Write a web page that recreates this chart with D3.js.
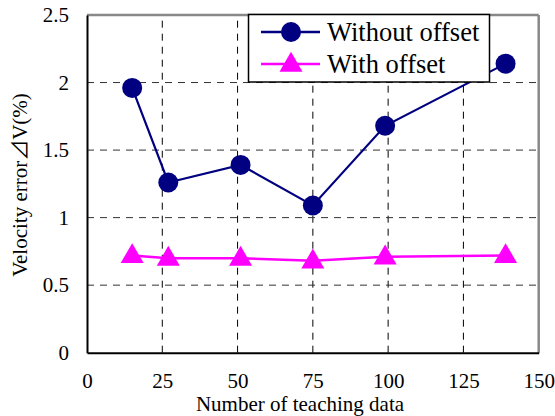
<!DOCTYPE html>
<html><head><meta charset="utf-8">
<script src="https://cdn.jsdelivr.net/npm/d3@7"></script>
<style>body{margin:0;background:#fff}svg{display:block}svg text{font-family:"Liberation Serif",serif}</style>
</head><body>
<script>
const xValues = [15, 27, 51, 75, 99, 139];
const withoutOffset = [1.96, 1.26, 1.39, 1.09, 1.68, 2.14];
const withOffset = [0.72, 0.70, 0.70, 0.68, 0.71, 0.72];
const xTicks = [0, 25, 50, 75, 100, 125, 150];
const yTicks = [0, 0.5, 1, 1.5, 2, 2.5];
const seriesNames = ["Without offset", "With offset"];

const W = 555, H = 416;
const m = {left: 87, right: 555 - 538.7, top: 15, bottom: 416 - 352.7};
const font = "Liberation Serif";

const svg = d3.select("body").append("svg").attr("width", W).attr("height", H);
const x = d3.scaleLinear().domain([0, 150]).range([m.left, W - m.right]);
const y = d3.scaleLinear().domain([0, 2.5]).range([H - m.bottom, m.top]);

// grid
svg.append("g").selectAll("line").data(xTicks.filter(d => d > 0 && d < 150)).join("line")
  .attr("x1", d => x(d)).attr("x2", d => x(d)).attr("y1", y(0)).attr("y2", y(2.5))
  .attr("stroke", "#000").attr("stroke-width", 1).attr("stroke-dasharray", "7,6");
svg.append("g").selectAll("line").data(yTicks.filter(d => d > 0 && d < 2.5)).join("line")
  .attr("x1", x(0)).attr("x2", x(150)).attr("y1", d => y(d)).attr("y2", d => y(d))
  .attr("stroke", "#333").attr("stroke-width", 1).attr("stroke-dasharray", "7,6");

// frame
svg.append("line").attr("x1", x(0)).attr("x2", x(150)).attr("y1", y(2.5)).attr("y2", y(2.5))
  .attr("stroke", "#888").attr("stroke-width", 2.5);
svg.append("line").attr("x1", x(150)).attr("x2", x(150)).attr("y1", y(2.5)).attr("y2", y(0))
  .attr("stroke", "#888").attr("stroke-width", 2.5);

// axes
const xAxis = svg.append("g").attr("transform", `translate(0,${y(0)})`)
  .call(d3.axisBottom(x).tickValues(xTicks).tickSize(0).tickPadding(20).tickFormat(d3.format("d")));
const yAxis = svg.append("g").attr("transform", `translate(${x(0)},0)`)
  .call(d3.axisLeft(y).tickValues(yTicks).tickSize(0).tickPadding(18).tickFormat(d => String(d)));
[xAxis, yAxis].forEach(a => {
  a.attr("font-family", null).attr("font-size", null);
  a.select(".domain").attr("stroke", "#000").attr("stroke-width", 2);
  a.selectAll("text").style("font-family", font).style("font-size", "21px").attr("fill", "#000");
});

// titles
svg.append("text").attr("x", 300).attr("y", 410.5)
  .attr("text-anchor", "middle").style("font-family", font).style("font-size", "21px")
  .text("Number of teaching data");
const yt = svg.append("text").attr("transform", `translate(27,185) rotate(-90)`)
  .attr("text-anchor", "middle").style("font-family", font).style("font-size", "21px");
yt.append("tspan").text("Velocity error");
yt.append("tspan").style("font-family", "Noto Sans CJK JP").text("⊿");
yt.append("tspan").text("V(%)");

// series
const ptsA = xValues.map((d, i) => [d, withoutOffset[i]]);
const ptsB = xValues.map((d, i) => [d, withOffset[i]]);
const line = d3.line().x(d => x(d[0])).y(d => y(d[1]));
const tri = d3.symbol().type(d3.symbolTriangle).size(230);

svg.append("path").datum(ptsB).attr("d", line).attr("fill", "none")
  .attr("stroke", "#ff00ff").attr("stroke-width", 2.5);
svg.append("g").selectAll("path").data(ptsB).join("path")
  .attr("d", tri).attr("transform", d => `translate(${x(d[0])},${y(d[1]) + 1})`).attr("fill", "#ff00ff");

svg.append("path").datum(ptsA).attr("d", line).attr("fill", "none")
  .attr("stroke", "#000080").attr("stroke-width", 2.2);
svg.append("g").selectAll("circle").data(ptsA).join("circle")
  .attr("cx", d => x(d[0])).attr("cy", d => y(d[1])).attr("r", 10).attr("fill", "#000080");

// legend
const lg = svg.append("g");
lg.append("rect").attr("x", 248.5).attr("y", 14.5).attr("width", 241).attr("height", 67.5)
  .attr("fill", "#fff").attr("stroke", "#000").attr("stroke-width", 1.5);
const rows = [{name: seriesNames[0], color: "#000080", cy: 32, shape: "circle"},
              {name: seriesNames[1], color: "#ff00ff", cy: 64, shape: "tri"}];
rows.forEach(r => {
  lg.append("line").attr("x1", 261).attr("x2", 320).attr("y1", r.cy).attr("y2", r.cy)
    .attr("stroke", r.color).attr("stroke-width", 2.5);
  if (r.shape === "circle") lg.append("circle").attr("cx", 291).attr("cy", r.cy).attr("r", 10).attr("fill", r.color);
  else lg.append("path").attr("d", tri).attr("transform", `translate(291,${r.cy + 1})`).attr("fill", r.color);
  lg.append("text").attr("x", 327).attr("y", r.cy + 8.5).style("font-family", font).style("font-size", "26.5px")
    .attr("fill", "#000").text(r.name);
});
</script>
</body></html>
